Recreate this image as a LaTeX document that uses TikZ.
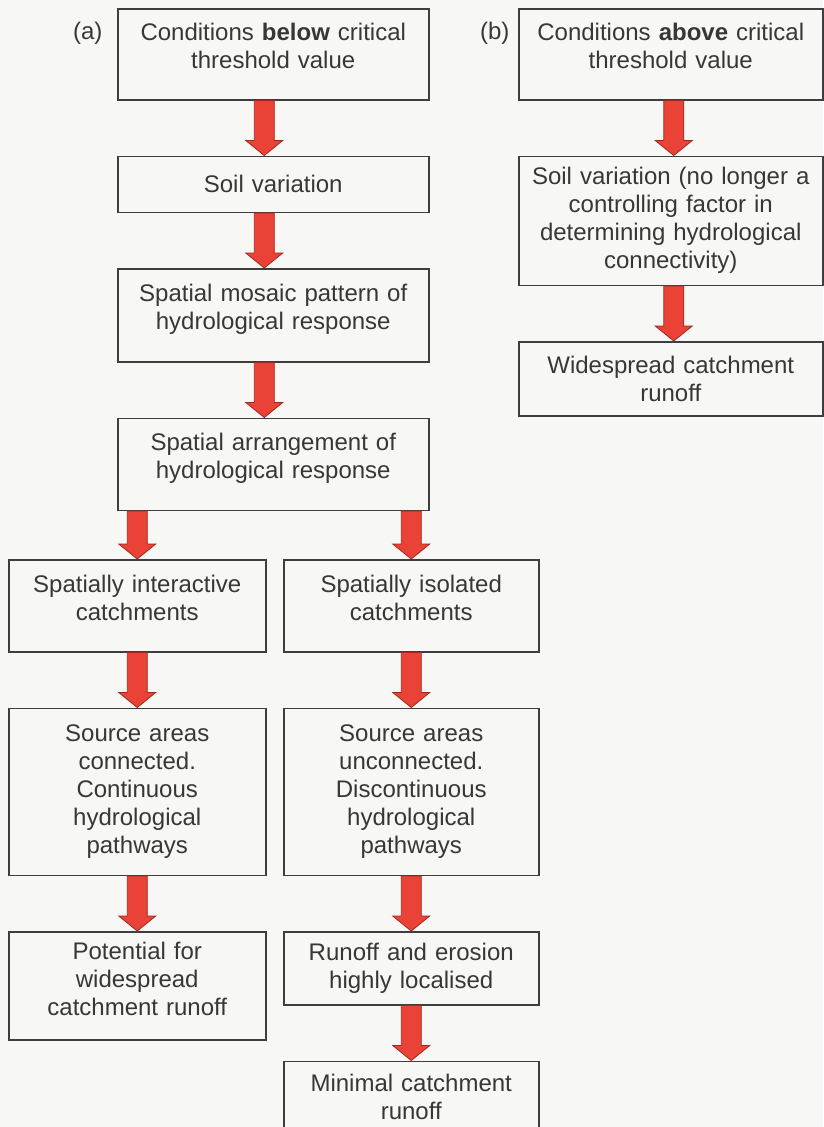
\documentclass[tikz,border=0pt]{standalone}
\usepackage{fontspec}
\setmainfont{Liberation Sans}
\usetikzlibrary{positioning,calc}

\definecolor{boxgray}{RGB}{62,62,62}
\definecolor{textgray}{RGB}{55,55,55}
\definecolor{arrowred}{RGB}{234,66,54}
\definecolor{arrowedge}{RGB}{160,40,30}
\definecolor{paper}{RGB}{247,247,245}

% fat red arrow between two named points, optional sideways offset
\newcommand{\redarrow}[3][0]{%
  \draw[fatarrow] ($(#2)+(#1-10,0)$) -- ($(#3)+(#1-10,-15)$) -- ($(#3)+(#1-18.5,-15)$)
    -- ($(#3)+(#1,0)$) -- ($(#3)+(#1+18.5,-15)$) -- ($(#3)+(#1+10,-15)$) -- ($(#2)+(#1+10,0)$) -- cycle;}

\begin{document}
\begin{tikzpicture}[x=1pt, y=-1pt, node distance=55pt,
every node/.style = {text=textgray, font=\fontsize{24}{28}\selectfont},
box/.style = {draw=boxgray, line width=1.5pt, align=center, inner sep=0pt},
textup/.style = {text depth=#1},
textup/.default = 44pt,
abox/.style = {box, minimum width=311pt, text width=305pt},
lbox/.style = {box, minimum width=257pt, text width=250pt},
rbox/.style = {box, minimum width=255pt, text width=250pt},
bbox/.style = {box, minimum width=304pt, text width=300pt},
fatarrow/.style = {fill=arrowred, draw=arrowedge, line width=0.8pt}]
\fill[paper] (0,0) rectangle (823,1127);
\useasboundingbox (0,0) rectangle (823,1127);

% (a) below the threshold
\node[abox, textup, minimum height=91pt, anchor=north west] (cond1) at (117,8) {Conditions \textbf{below} critical\\ threshold value};
\node[abox, minimum height=56pt, below=of cond1] (soil1) {Soil variation};
\node[abox, textup, minimum height=93pt, below=of soil1] (mosaic) {Spatial mosaic pattern of\\ hydrological response};
\node[abox, textup, minimum height=92pt, below=of mosaic] (arrange) {Spatial arrangement of\\ hydrological response};
\node[lbox, textup, minimum height=92pt, anchor=north west] (inter) at (8,559) {Spatially interactive\\ catchments};
\node[rbox, textup, minimum height=92pt, anchor=north west] (isol) at (283,559) {Spatially isolated\\ catchments};
\node[lbox, minimum height=167pt, below=of inter] (conn) {Source areas\\ connected.\\ Continuous\\ hydrological\\ pathways};
\node[rbox, minimum height=167pt, below=of isol] (unconn) {Source areas\\ unconnected.\\ Discontinuous\\ hydrological\\ pathways};
\node[lbox, textup=70pt, minimum height=108pt, below=of conn] (potential) {Potential for\\ widespread\\ catchment runoff};
\node[rbox, minimum height=73pt, below=of unconn] (localised) {Runoff and erosion\\ highly localised};
\node[rbox, minimum height=72pt, below=of localised] (minimal) {Minimal catchment\\ runoff};

% (b) above the threshold
\node[bbox, textup, minimum height=91pt, anchor=north west] (cond2) at (518,8) {Conditions \textbf{above} critical\\ threshold value};
\node[bbox, minimum height=129pt, below=of cond2] (soil2) {Soil variation (no longer a\\ controlling factor in\\ determining hydrological\\ connectivity)};
\node[bbox, minimum height=74pt, below=of soil2] (widespread) {Widespread catchment\\ runoff};

\node[anchor=base east] (labela) at (106,39) {(a)};
\node[anchor=base east] (labelb) at (513,39) {(b)};

\coordinate (splitl) at (arrange.south -| inter.north);
\coordinate (splitr) at (arrange.south -| isol.north);

\redarrow[-9]{cond1.south}{soil1.north}
\redarrow[-9]{soil1.south}{mosaic.north}
\redarrow[-9]{mosaic.south}{arrange.north}
\redarrow{splitl}{inter.north}
\redarrow{splitr}{isol.north}
\redarrow{inter.south}{conn.north}
\redarrow{isol.south}{unconn.north}
\redarrow{conn.south}{potential.north}
\redarrow{unconn.south}{localised.north}
\redarrow{localised.south}{minimal.north}
\redarrow[3]{cond2.south}{soil2.north}
\redarrow[3]{soil2.south}{widespread.north}
\end{tikzpicture}
\end{document}
